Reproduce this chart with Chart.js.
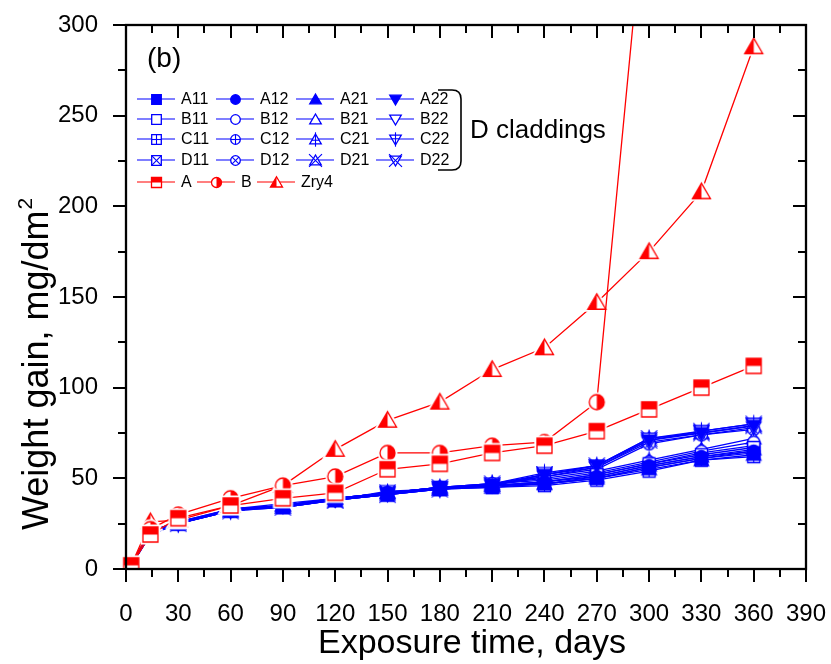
<!DOCTYPE html>
<html>
<head>
<meta charset="utf-8">
<script src="https://cdn.jsdelivr.net/npm/chart.js@4.4.0/dist/chart.umd.min.js"></script>
<style>
  html, body { margin: 0; padding: 0; background: #fff; }
</style>
</head>
<body>
<canvas id="myChart" width="831" height="664"></canvas>
<script>
// exposure time (days) and weight gain (mg/dm2)
var days = [3, 14, 30, 60, 90, 120, 150, 180, 210, 240, 270, 300, 330, 360];

var A11 = [2, 20, 25, 32, 34, 38, 41, 44, 45, 47, 50, 56, 61, 64];
var A12 = [2, 19, 25, 33, 35, 38, 42, 44, 46, 48, 51, 57, 62, 65];
var A21 = [2, 20, 26, 32, 35, 39, 42, 45, 46, 47, 50, 55, 60, 63];
var A22 = [2, 20, 26, 33, 35, 39, 42, 45, 46, 52, 57, 71, 75, 79];
var B11 = [3, 20, 25, 33, 34, 38, 41, 44, 46, 48, 52, 58, 63, 67];
var B12 = [2, 21, 26, 32, 35, 38, 42, 45, 47, 49, 53, 59, 65, 70];
var B21 = [2, 20, 25, 33, 35, 39, 42, 44, 46, 47, 51, 57, 62, 66];
var B22 = [2, 21, 25, 32, 35, 38, 43, 44, 47, 51, 56, 70, 74, 78];
var C11 = [2, 19, 25, 32, 34, 38, 41, 44, 45, 46, 49, 54, 60, 62];
var C12 = [3, 20, 26, 33, 35, 38, 42, 45, 46, 48, 52, 58, 64, 68];
var C21 = [2, 20, 25, 32, 35, 39, 42, 44, 47, 50, 54, 60, 66, 72];
var C22 = [3, 20, 25, 33, 36, 39, 42, 45, 47, 53, 57, 72, 76, 80];
var D11 = [2, 21, 25, 33, 35, 38, 41, 45, 46, 47, 50, 56, 61, 65];
var D12 = [3, 21, 26, 32, 35, 39, 42, 44, 46, 51, 55, 69, 74, 77];
var D21 = [2, 20, 25, 33, 34, 38, 42, 45, 47, 52, 57, 72, 75, 79];
var D22 = [2, 19, 26, 32, 35, 38, 41, 44, 46, 52, 56, 71, 76, 80];

var A = [2, 19, 28, 35, 39, 42, 55, 58, 64, 68, 76, 88, 100, 112];
var B = [2, 22, 30, 39, 46, 51, 64, 64, 68, 70, 92, 393];
var Zry4 = [2, 26, 27, 35, 46, 66, 82, 92, 110, 122, 147, 175, 208, 288];

var BLUE = '#0000ff';
var RED = '#ff0000';
var FONT = "'Liberation Sans', Arial, sans-serif";

// ---- marker symbols drawn into small canvases ----
function shapePath(ctx, shape, c, r) {
  ctx.beginPath();
  if (shape == 'square') ctx.rect(c - r, c - r, 2 * r, 2 * r);
  else if (shape == 'circle') ctx.arc(c, c, r, 0, 2 * Math.PI);
  else if (shape == 'up') {
    ctx.moveTo(c, c - r * 1.15); ctx.lineTo(c + r * 1.2, c + r * 0.9); ctx.lineTo(c - r * 1.2, c + r * 0.9); ctx.closePath();
  } else if (shape == 'down') {
    ctx.moveTo(c, c + r * 1.15); ctx.lineTo(c + r * 1.2, c - r * 0.9); ctx.lineTo(c - r * 1.2, c - r * 0.9); ctx.closePath();
  }
}

function line(ctx, x1, y1, x2, y2) {
  ctx.beginPath(); ctx.moveTo(x1, y1); ctx.lineTo(x2, y2); ctx.stroke();
}

function makeMarker(shape, color, r, fill, extra, halo) {
  var s = Math.ceil(r * 3 + 6);
  if (s % 2 == 0) s++;
  var cv = document.createElement('canvas');
  cv.width = s; cv.height = s;
  var ctx = cv.getContext('2d');
  var c = s / 2;
  if (halo) {
    shapePath(ctx, shape, c, r);
    ctx.strokeStyle = '#fff'; ctx.lineWidth = 5; ctx.stroke();
  }
  shapePath(ctx, shape, c, r);
  ctx.fillStyle = fill == 'full' ? color : '#fff';
  ctx.fill();
  if (fill == 'top' || fill == 'left' || fill == 'right') {
    ctx.save();
    shapePath(ctx, shape, c, r); ctx.clip();
    ctx.fillStyle = color;
    if (fill == 'top') ctx.fillRect(0, 0, s, c);
    if (fill == 'left') ctx.fillRect(0, 0, c, s);
    if (fill == 'right') ctx.fillRect(c, 0, s, s);
    ctx.restore();
  }
  ctx.strokeStyle = color;
  ctx.lineWidth = 1.3;
  shapePath(ctx, shape, c, r);
  ctx.stroke();
  ctx.lineWidth = 1.1;
  if (extra == 'plus') {
    if (shape == 'up' || shape == 'down') {
      line(ctx, c, c - r * 1.5, c, c + r * 1.5);
      var hy = c + (shape == 'up' ? r * 0.15 : -r * 0.15);
      line(ctx, c - r * 0.8, hy, c + r * 0.8, hy);
    } else {
      line(ctx, c - r, c, c + r, c);
      line(ctx, c, c - r, c, c + r);
    }
  } else if (extra == 'x') {
    var k = (shape == 'circle') ? 0.7 : (shape == 'square' ? 1 : 1.35);
    line(ctx, c - r * k, c - r * k, c + r * k, c + r * k);
    line(ctx, c - r * k, c + r * k, c + r * k, c - r * k);
  }
  return cv;
}

// name, values, shape, fill, extra
var blueDefs = [
  ['A11', A11, 'square', 'full', null], ['A12', A12, 'circle', 'full', null],
  ['A21', A21, 'up', 'full', null], ['A22', A22, 'down', 'full', null],
  ['B11', B11, 'square', 'open', null], ['B12', B12, 'circle', 'open', null],
  ['B21', B21, 'up', 'open', null], ['B22', B22, 'down', 'open', null],
  ['C11', C11, 'square', 'open', 'plus'], ['C12', C12, 'circle', 'open', 'plus'],
  ['C21', C21, 'up', 'open', 'plus'], ['C22', C22, 'down', 'open', 'plus'],
  ['D11', D11, 'square', 'open', 'x'], ['D12', D12, 'circle', 'open', 'x'],
  ['D21', D21, 'up', 'open', 'x'], ['D22', D22, 'down', 'open', 'x']
];
var redDefs = [
  ['A', A, 'square', 'top'],
  ['B', B, 'circle', 'right'],
  ['Zry4', Zry4, 'up', 'left']
];

function pts(vals) {
  return vals.map(function (v, i) { return { x: days[i], y: v }; });
}

var datasets = [];
var legendMarks = [];
blueDefs.forEach(function (d) {
  datasets.push({
    label: d[0], data: pts(d[1]),
    borderColor: BLUE, backgroundColor: BLUE, borderWidth: 1.3,
    pointStyle: makeMarker(d[2], BLUE, 6, d[3], d[4], false),
    pointRadius: 6, tension: 0, order: 1,
    clip: { left: 8, right: 8, top: 0, bottom: 0 }
  });
  legendMarks.push(makeMarker(d[2], BLUE, 4.8, d[3], d[4], false));
});
redDefs.forEach(function (d) {
  datasets.push({
    label: d[0], data: pts(d[1]),
    borderColor: RED, backgroundColor: RED, borderWidth: 1.3,
    pointStyle: makeMarker(d[2], RED, 7.5, d[3], null, true),
    pointRadius: 8, tension: 0, order: 0,
    clip: { left: 8, right: 8, top: 0, bottom: 0 }
  });
  legendMarks.push(makeMarker(d[2], RED, 5, d[3], null, false));
});

// frame, ticks, legend and texts
var decorations = {
  id: 'decorations',
  afterDraw: function (chart) {
    var ctx = chart.ctx;
    var a = chart.chartArea;
    var xs = chart.scales.x, ys = chart.scales.y;
    ctx.save();
    ctx.strokeStyle = '#000';
    ctx.lineWidth = 2.3;
    ctx.strokeRect(a.left, a.top, a.right - a.left, a.bottom - a.top);
    ctx.lineWidth = 2;
    for (var d = 0; d <= 390; d += 15) {
      var px = Math.round(xs.getPixelForValue(d));
      var len = d % 30 == 0 ? 13 : 8;
      line(ctx, px, a.bottom, px, a.bottom + len);
      line(ctx, px, a.top, px, a.top + len);
    }
    for (var v = 0; v <= 300; v += 25) {
      var py = Math.round(ys.getPixelForValue(v));
      var len2 = v % 50 == 0 ? 13 : 8;
      line(ctx, a.left, py, a.left - len2, py);
      line(ctx, a.right, py, a.right - len2, py);
    }

    // legend
    ctx.font = '16px ' + FONT;
    ctx.textBaseline = 'middle';
    ctx.textAlign = 'left';
    var cols = [156, 235, 315, 395];
    var rows = [99, 119, 139, 160];
    var redCols = [156, 216, 276];
    chart.data.datasets.forEach(function (ds, i) {
      var mx, my;
      if (i < 16) { mx = cols[i % 4]; my = rows[Math.floor(i / 4)]; }
      else { mx = redCols[i - 16]; my = 182; }
      ctx.strokeStyle = ds.borderColor;
      ctx.lineWidth = 1.2;
      line(ctx, mx - 19, my, mx + 19, my);
      var m = legendMarks[i];
      ctx.drawImage(m, Math.round(mx - m.width / 2), Math.round(my - m.height / 2));
      ctx.fillStyle = '#000';
      ctx.fillText(ds.label, mx + 25, my + 1);
    });

    // bracket + group label
    ctx.strokeStyle = '#000';
    ctx.lineWidth = 1.6;
    ctx.beginPath();
    ctx.moveTo(438, 90);
    ctx.lineTo(452, 90);
    ctx.quadraticCurveTo(461, 90, 461, 99);
    ctx.lineTo(461, 161);
    ctx.quadraticCurveTo(461, 170, 452, 170);
    ctx.lineTo(438, 170);
    ctx.stroke();
    ctx.fillStyle = '#000';
    ctx.font = '26px ' + FONT;
    ctx.textBaseline = 'alphabetic';
    ctx.fillText('D claddings', 470, 138);
    ctx.font = '28px ' + FONT;
    ctx.fillText('(b)', 147, 67);

    // axis titles
    ctx.font = '34px ' + FONT;
    ctx.textAlign = 'center';
    ctx.fillText('Exposure time, days', 472, 653);
    ctx.save();
    ctx.translate(48, 530);
    ctx.rotate(-Math.PI / 2);
    ctx.textAlign = 'left';
    ctx.font = '36px ' + FONT;
    var t = 'Weight gain, mg/dm';
    ctx.fillText(t, 0, 0);
    var w = ctx.measureText(t).width;
    ctx.font = '21px ' + FONT;
    ctx.fillText('2', w + 1, -16);
    ctx.restore();
    ctx.restore();
  }
};

function noPad(s) {
  s.paddingTop = 0; s.paddingBottom = 0; s.paddingLeft = 0; s.paddingRight = 0;
}

var ctx = document.getElementById('myChart').getContext('2d');
var chart = new Chart(ctx, {
  type: 'line',
  data: { datasets: datasets },
  options: {
    responsive: false,
    animation: false,
    layout: { padding: { top: 25, right: 25, left: 0, bottom: 0 } },
    plugins: { legend: { display: false }, tooltip: { enabled: false } },
    scales: {
      x: {
        type: 'linear', min: 0, max: 390,
        afterFit: function (s) { s.height = 95; noPad(s); },
        ticks: { stepSize: 30, color: '#000', font: { family: FONT, size: 24 }, padding: 23, maxRotation: 0, autoSkip: false },
        grid: { display: false },
        border: { display: false }
      },
      y: {
        min: 0, max: 300,
        afterFit: function (s) { s.width = 126; noPad(s); },
        ticks: { stepSize: 50, color: '#000', font: { family: FONT, size: 24 }, padding: 20 },
        grid: { display: false },
        border: { display: false }
      }
    }
  },
  plugins: [decorations]
});
</script>
</body>
</html>
